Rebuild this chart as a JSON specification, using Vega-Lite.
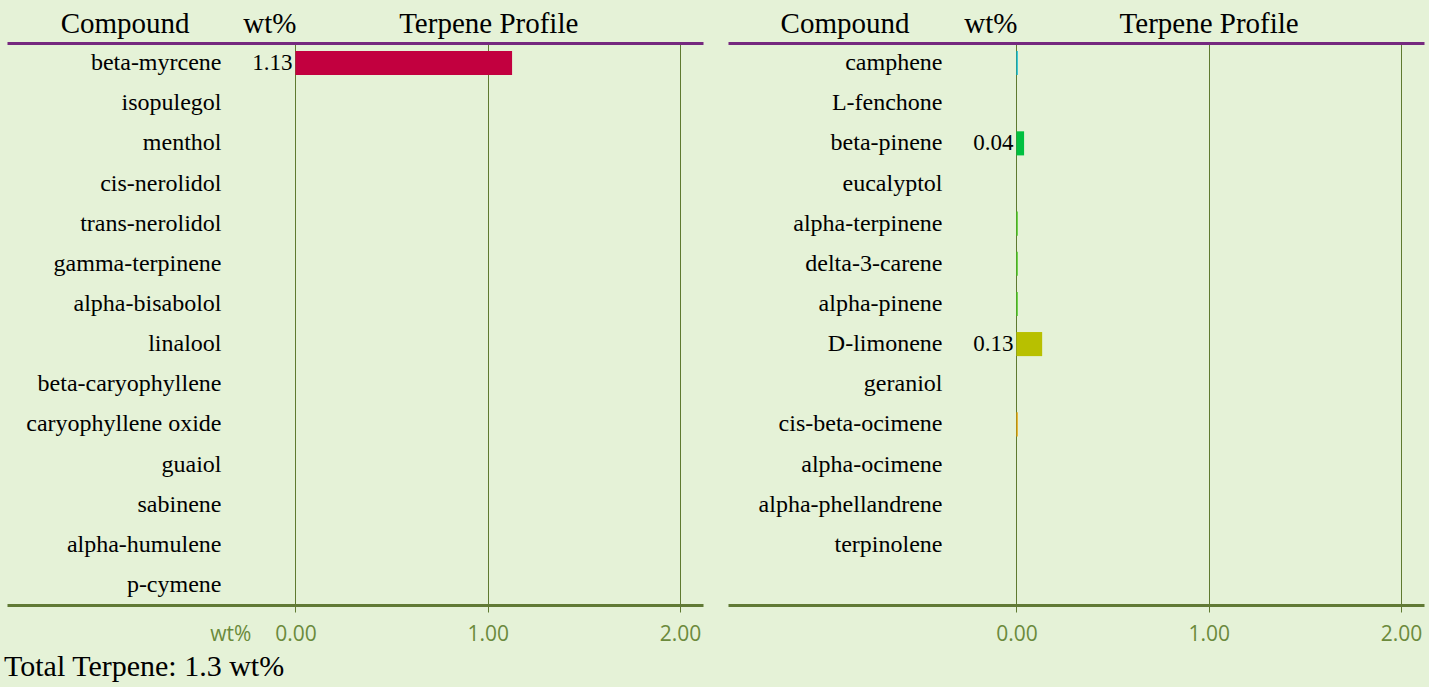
{
  "$schema": "https://vega.github.io/schema/vega-lite/v6.json",
  "background": "#e5f2d7",
  "padding": {"left": 4, "top": 9, "right": 5, "bottom": 5},
  "spacing": 25,
  "title": {"text": "Total Terpene: 1.3 wt%", "orient": "bottom", "anchor": "start", "font": "Times New Roman, Liberation Serif, serif", "fontSize": 30, "fontWeight": "normal", "color": "black", "offset": 8, "dx": -3},
  "config": {"view": {"stroke": null}},
  "datasets": {
    "left": [
      {"compound": "beta-myrcene", "wt": 1.127},
      {"compound": "isopulegol", "wt": 0},
      {"compound": "menthol", "wt": 0},
      {"compound": "cis-nerolidol", "wt": 0},
      {"compound": "trans-nerolidol", "wt": 0},
      {"compound": "gamma-terpinene", "wt": 0},
      {"compound": "alpha-bisabolol", "wt": 0},
      {"compound": "linalool", "wt": 0},
      {"compound": "beta-caryophyllene", "wt": 0},
      {"compound": "caryophyllene oxide", "wt": 0},
      {"compound": "guaiol", "wt": 0},
      {"compound": "sabinene", "wt": 0},
      {"compound": "alpha-humulene", "wt": 0},
      {"compound": "p-cymene", "wt": 0}
    ],
    "right": [
      {"compound": "camphene", "wt": 0.007},
      {"compound": "L-fenchone", "wt": 0},
      {"compound": "beta-pinene", "wt": 0.04},
      {"compound": "eucalyptol", "wt": 0},
      {"compound": "alpha-terpinene", "wt": 0.007},
      {"compound": "delta-3-carene", "wt": 0.007},
      {"compound": "alpha-pinene", "wt": 0.007},
      {"compound": "D-limonene", "wt": 0.134},
      {"compound": "geraniol", "wt": 0},
      {"compound": "cis-beta-ocimene", "wt": 0.007},
      {"compound": "alpha-ocimene", "wt": 0},
      {"compound": "alpha-phellandrene", "wt": 0},
      {"compound": "terpinolene", "wt": 0}
    ]
  },
  "hconcat": [
    {
      "width": 696,
      "height": 562,
      "data": {"name": "left"},
      "resolve": {"axis": {"x": "independent"}},
      "layer": [
        {
          "mark": {"type": "bar"},
          "encoding": {
            "y": {"field": "compound", "type": "nominal", "sort": null,
              "scale": {"domain": ["beta-myrcene", "isopulegol", "menthol", "cis-nerolidol", "trans-nerolidol", "gamma-terpinene", "alpha-bisabolol", "linalool", "beta-caryophyllene", "caryophyllene oxide", "guaiol", "sabinene", "alpha-humulene", "p-cymene"], "paddingInner": 0.4, "paddingOuter": 0.2},
              "axis": {"title": null, "orient": "left", "offset": -214, "domain": false, "ticks": false, "tickSize": 0, "labelPadding": 0, "labelFont": "Times New Roman, Liberation Serif, serif", "labelFontSize": 24, "labelColor": "black", "labelLimit": 400}},
            "x": {"field": "wt", "type": "quantitative",
              "scale": {"domain": [-1.5, 2.12], "nice": false, "zero": false},
              "axis": {"orient": "bottom", "title": null, "values": [-0.338, 0, 1, 2],
                "labelExpr": "datum.value < -0.1 ? 'wt%' : format(datum.value, '.2f')",
                "grid": true, "gridColor": "#5f7a30", "gridWidth": 1,
                "gridOpacity": {"condition": {"test": "datum.value < -0.1", "value": 0}, "value": 1},
                "tickOpacity": {"condition": {"test": "datum.value < -0.1", "value": 0}, "value": 1},
                "tickColor": "#5f7a30", "tickSize": 7, "domainColor": "#617a35", "domainWidth": 3,
                "labelColor": "#6b8a3c", "labelFont": "Open Sans", "labelFontSize": 21, "labelPadding": 11, "labelFlush": false, "labelOverlap": false}},
            "color": {"field": "compound", "type": "nominal", "legend": null,
              "scale": {"domain": ["beta-myrcene", "camphene", "beta-pinene", "alpha-terpinene", "delta-3-carene", "alpha-pinene", "D-limonene", "cis-beta-ocimene"], "range": ["#c2003f", "#00b8d8", "#00c040", "#44c81c", "#44c81c", "#44c81c", "#b8c000", "#e8a000"]}}
          }
        },
        {
          "transform": [{"filter": "datum.wt >= 0.01"}],
          "mark": {"type": "text", "align": "right", "baseline": "middle", "dx": -3, "font": "Times New Roman, Liberation Serif, serif", "fontSize": 23, "color": "black"},
          "encoding": {
            "y": {"field": "compound", "type": "nominal", "sort": null},
            "x": {"datum": 0, "type": "quantitative",
              "axis": {"orient": "top", "title": null, "values": [-0.888, -0.135, 1.003],
                "labelExpr": "datum.value < -0.5 ? 'Compound' : datum.value < 0.5 ? 'wt%' : 'Terpene Profile'",
                "grid": false, "ticks": false, "tickSize": 0, "domainColor": "#76297f", "domainWidth": 3,
                "labelFont": "Times New Roman, Liberation Serif, serif", "labelFontSize": 29, "labelColor": "black", "labelPadding": 5, "labelFlush": false, "labelOverlap": false}},
            "text": {"field": "wt", "type": "quantitative", "format": ".2f"}
          }
        }
      ]
    },
    {
      "width": 696,
      "height": 562,
      "data": {"name": "right"},
      "resolve": {"axis": {"x": "independent"}},
      "layer": [
        {
          "mark": {"type": "bar"},
          "encoding": {
            "y": {"field": "compound", "type": "nominal", "sort": null,
              "scale": {"domain": ["camphene", "L-fenchone", "beta-pinene", "eucalyptol", "alpha-terpinene", "delta-3-carene", "alpha-pinene", "D-limonene", "geraniol", "cis-beta-ocimene", "alpha-ocimene", "alpha-phellandrene", "terpinolene", " "], "paddingInner": 0.4, "paddingOuter": 0.2},
              "axis": {"title": null, "orient": "left", "offset": -214, "domain": false, "ticks": false, "tickSize": 0, "labelPadding": 0, "labelFont": "Times New Roman, Liberation Serif, serif", "labelFontSize": 24, "labelColor": "black", "labelLimit": 400}},
            "x": {"field": "wt", "type": "quantitative",
              "scale": {"domain": [-1.5, 2.12], "nice": false, "zero": false},
              "axis": {"orient": "bottom", "title": null, "values": [0, 1, 2],
                "format": ".2f",
                "grid": true, "gridColor": "#5f7a30", "gridWidth": 1,
                "tickColor": "#5f7a30", "tickSize": 7, "domainColor": "#617a35", "domainWidth": 3,
                "labelColor": "#6b8a3c", "labelFont": "Open Sans", "labelFontSize": 21, "labelPadding": 11, "labelFlush": false, "labelOverlap": false}},
            "color": {"field": "compound", "type": "nominal", "legend": null,
              "scale": {"domain": ["beta-myrcene", "camphene", "beta-pinene", "alpha-terpinene", "delta-3-carene", "alpha-pinene", "D-limonene", "cis-beta-ocimene"], "range": ["#c2003f", "#00b8d8", "#00c040", "#44c81c", "#44c81c", "#44c81c", "#b8c000", "#e8a000"]}}
          }
        },
        {
          "transform": [{"filter": "datum.wt >= 0.01"}],
          "mark": {"type": "text", "align": "right", "baseline": "middle", "dx": -3, "font": "Times New Roman, Liberation Serif, serif", "fontSize": 23, "color": "black"},
          "encoding": {
            "y": {"field": "compound", "type": "nominal", "sort": null},
            "x": {"datum": 0, "type": "quantitative",
              "axis": {"orient": "top", "title": null, "values": [-0.894, -0.135, 1.0],
                "labelExpr": "datum.value < -0.5 ? 'Compound' : datum.value < 0.5 ? 'wt%' : 'Terpene Profile'",
                "grid": false, "ticks": false, "tickSize": 0, "domainColor": "#76297f", "domainWidth": 3,
                "labelFont": "Times New Roman, Liberation Serif, serif", "labelFontSize": 29, "labelColor": "black", "labelPadding": 5, "labelFlush": false, "labelOverlap": false}},
            "text": {"field": "wt", "type": "quantitative", "format": ".2f"}
          }
        }
      ]
    }
  ]
}
